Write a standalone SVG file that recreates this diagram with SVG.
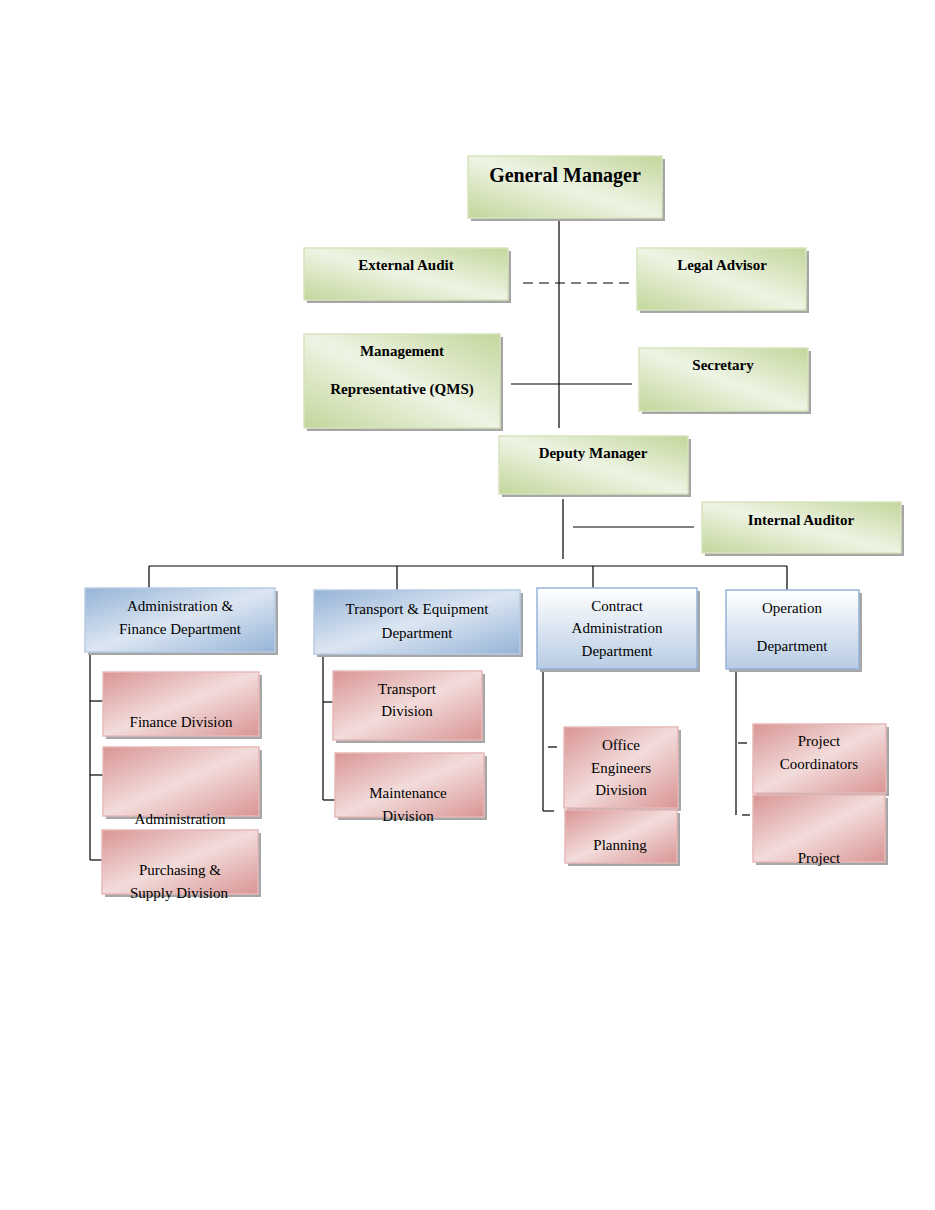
<svg xmlns="http://www.w3.org/2000/svg" width="935" height="1210" viewBox="0 0 935 1210">
<defs>
<linearGradient id="g" x1="0" y1="1" x2="1" y2="0"><stop offset="0" stop-color="#c3d69b"/><stop offset="0.5" stop-color="#eef4e4"/><stop offset="1" stop-color="#c3d69b"/></linearGradient>
<linearGradient id="b" x1="0" y1="0" x2="1" y2="1"><stop offset="0" stop-color="#95b3d7"/><stop offset="0.5" stop-color="#dce6f2"/><stop offset="1" stop-color="#95b3d7"/></linearGradient>
<linearGradient id="b2" x1="0" y1="0" x2="0" y2="1"><stop offset="0" stop-color="#ffffff"/><stop offset="1" stop-color="#b8cce4"/></linearGradient>
<linearGradient id="p" x1="0" y1="0" x2="1" y2="1"><stop offset="0" stop-color="#d99594"/><stop offset="0.5" stop-color="#f2dcdb"/><stop offset="1" stop-color="#d99594"/></linearGradient>
</defs>
<style>
.sh{fill:#a6a6a6}
.gr{fill:url(#g);stroke:#d7e4bd;stroke-width:1.5}
.bl{fill:url(#b);stroke:#b8cce4;stroke-width:1.5}
.bw{fill:url(#b2);stroke:#95b3d7;stroke-width:1.5}
.pk{fill:url(#p);stroke:#e6b9b8;stroke-width:1.5}
text{font-family:"Liberation Serif","DejaVu Serif",serif;font-size:15px;fill:#000;text-anchor:middle}
.bo{font-weight:bold}
.c line{stroke:#000;stroke-width:1.2}
</style>
<g class="c">
<line x1="559" y1="218" x2="559" y2="428"/>
<line x1="523" y1="283" x2="632" y2="283" stroke-dasharray="10,6"/>
<line x1="511" y1="384" x2="632" y2="384"/>
<line x1="563" y1="499" x2="563" y2="559"/>
<line x1="573" y1="527" x2="694" y2="527"/>
<line x1="149" y1="566" x2="787" y2="566"/>
<line x1="149" y1="566" x2="149" y2="588"/>
<line x1="397" y1="566" x2="397" y2="590"/>
<line x1="593" y1="566" x2="593" y2="588"/>
<line x1="787" y1="566" x2="787" y2="590"/>
<line x1="90" y1="652" x2="90" y2="860"/>
<line x1="90" y1="701" x2="103" y2="701"/>
<line x1="90" y1="775" x2="103" y2="775"/>
<line x1="90" y1="860" x2="102" y2="860"/>
<line x1="323" y1="655" x2="323" y2="800"/>
<line x1="323" y1="702" x2="333" y2="702"/>
<line x1="323" y1="800" x2="335" y2="800"/>
<line x1="543" y1="670" x2="543" y2="811"/>
<line x1="548" y1="747" x2="557" y2="747"/>
<line x1="543" y1="811" x2="554" y2="811"/>
<line x1="736" y1="670" x2="736" y2="815"/>
<line x1="738" y1="743" x2="747" y2="743"/>
<line x1="742" y1="815" x2="750" y2="815"/>
</g>
<g id="gm"><rect class="sh" x="471" y="159" width="194" height="62"/><rect class="gr" x="468" y="156" width="194" height="62"/><text class="bo" x="565" y="182" style="font-size:20px">General Manager</text></g>
<g id="ext"><rect class="sh" x="307" y="251" width="204" height="52"/><rect class="gr" x="304" y="248" width="204" height="52"/><text class="bo" x="406" y="270">External Audit</text></g>
<g id="legal"><rect class="sh" x="640" y="251" width="169" height="62"/><rect class="gr" x="637" y="248" width="169" height="62"/><text class="bo" x="722" y="270">Legal Advisor</text></g>
<g id="mr"><rect class="sh" x="307" y="337" width="196" height="94"/><rect class="gr" x="304" y="334" width="196" height="94"/><text class="bo" x="402" y="356">Management</text><text class="bo" x="402" y="394">Representative (QMS)</text></g>
<g id="sec"><rect class="sh" x="642" y="351" width="169" height="63"/><rect class="gr" x="639" y="348" width="169" height="63"/><text class="bo" x="723" y="370">Secretary</text></g>
<g id="dm"><rect class="sh" x="502" y="439" width="189" height="58"/><rect class="gr" x="499" y="436" width="189" height="58"/><text class="bo" x="593" y="458">Deputy Manager</text></g>
<g id="ia"><rect class="sh" x="705" y="505" width="199" height="51"/><rect class="gr" x="702" y="502" width="199" height="51"/><text class="bo" x="801" y="525">Internal Auditor</text></g>
<g id="afd"><rect class="sh" x="88" y="591" width="190" height="64"/><rect class="bl" x="85" y="588" width="190" height="64"/><text x="180" y="611">Administration &amp;</text><text x="180" y="634">Finance Department</text></g>
<g id="ted"><rect class="sh" x="317" y="593" width="206" height="64"/><rect class="bl" x="314" y="590" width="206" height="64"/><text x="417" y="614">Transport &amp; Equipment</text><text x="417" y="638">Department</text></g>
<g id="cad"><rect class="sh" x="540" y="591" width="160" height="81"/><rect class="bw" x="537" y="588" width="160" height="81"/><text x="617" y="611">Contract</text><text x="617" y="633">Administration</text><text x="617" y="656">Department</text></g>
<g id="od"><rect class="sh" x="729" y="593" width="133" height="79"/><rect class="bw" x="726" y="590" width="133" height="79"/><text x="792" y="613">Operation</text><text x="792" y="651">Department</text></g>
<g id="fin"><rect class="sh" x="106" y="675" width="156" height="64"/><rect class="pk" x="103" y="672" width="156" height="64"/><text x="181" y="727">Finance Division</text></g>
<g id="adm"><rect class="sh" x="106" y="750" width="156" height="69"/><rect class="pk" x="103" y="747" width="156" height="69"/><text x="180" y="824">Administration</text></g>
<g id="pur"><rect class="sh" x="105" y="833" width="156" height="64"/><rect class="pk" x="102" y="830" width="156" height="64"/><text x="180" y="875">Purchasing &amp;</text><text x="179" y="898">Supply Division</text></g>
<g id="tra"><rect class="sh" x="336" y="674" width="149" height="69"/><rect class="pk" x="333" y="671" width="149" height="69"/><text x="407" y="694">Transport</text><text x="407" y="716">Division</text></g>
<g id="mai"><rect class="sh" x="338" y="756" width="149" height="64"/><rect class="pk" x="335" y="753" width="149" height="64"/><text x="408" y="798">Maintenance</text><text x="408" y="821">Division</text></g>
<g id="oed"><rect class="sh" x="567" y="730" width="114" height="81"/><rect class="pk" x="564" y="727" width="114" height="81"/><text x="621" y="750">Office</text><text x="621" y="773">Engineers</text><text x="621" y="795">Division</text></g>
<g id="pla"><rect class="sh" x="568" y="813" width="112" height="53"/><rect class="pk" x="565" y="810" width="112" height="53"/><text x="620" y="850">Planning</text></g>
<g id="pc"><rect class="sh" x="756" y="727" width="133" height="69"/><rect class="pk" x="753" y="724" width="133" height="69"/><text x="819" y="746">Project</text><text x="819" y="769">Coordinators</text></g>
<g id="pr"><rect class="sh" x="756" y="798" width="132" height="67"/><rect class="pk" x="753" y="795" width="132" height="67"/><text x="819" y="863">Project</text></g>
</svg>
